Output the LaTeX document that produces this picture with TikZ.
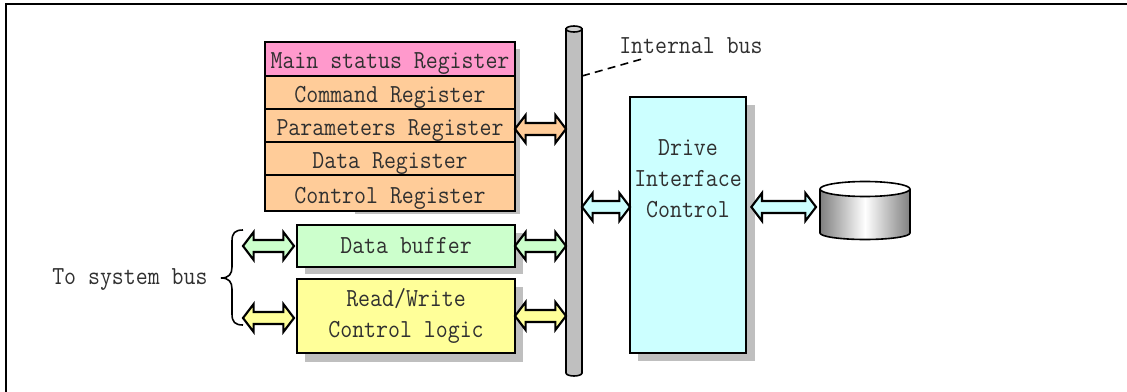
\documentclass[tikz,border=0pt]{standalone}
\usepackage{fontspec}
\newfontfamily\lblfont[FakeStretch=0.892]{Latin Modern Mono}
\usetikzlibrary{calc}
\definecolor{shad}{HTML}{BFBFBF}
\definecolor{pinkc}{HTML}{FF99CC}
\definecolor{orangec}{HTML}{FFCC99}
\definecolor{greenc}{HTML}{CCFFCC}
\definecolor{yellowc}{HTML}{FFFF99}
\definecolor{cyanc}{HTML}{CCFFFF}
\definecolor{txt}{HTML}{303030}
\newcommand{\lbl}{\fontsize{19.5}{23}\selectfont\lblfont}
\newcommand{\dn}[1]{\raisebox{-7.5pt}[0pt][0pt]{#1}}
\tikzset{
  x=0.75pt,y=-0.75pt,
  boxed/.style={draw=black,line width=1.5pt,inner sep=0pt,outer sep=0pt,text=txt,align=center,font=\lbl,anchor=north west},
  reg/.style={boxed,fill=orangec,minimum width=187.5pt},
  dbl/.style={draw=black,line width=1.6pt,line join=miter,miter limit=4,
    to path={let \p1=(\tikztostart),\p2=(\tikztotarget) in
      (\x1,\y1) -- (\x1+8pt,\y1+10.5pt) -- (\x1+8pt,\y1+4.5pt) -- (\x2-8pt,\y1+4.5pt) -- (\x2-8pt,\y1+10.5pt) -- (\x2,\y1)
      -- (\x2-8pt,\y1-10.5pt) -- (\x2-8pt,\y1-4.5pt) -- (\x1+8pt,\y1-4.5pt) -- (\x1+8pt,\y1-10.5pt) -- cycle}},
  plain/.style={font=\lbl,text=txt,inner sep=0pt},
}
\begin{document}
\begin{tikzpicture}
\useasboundingbox (0,0) rectangle (1127,392);
\draw[line width=2pt] (6,392) -- (6,4) -- (1127,4);
% shadows
\fill[shad] (355,49) rectangle (520,214);
\fill[shad] (305,233) rectangle (523,274);
\fill[shad] (305,287) rectangle (523,362);
\fill[shad] (638,105) rectangle (755,361);
% register stack
\node[reg,minimum height=25.5pt,fill=pinkc] (main) at (265,42) {\dn{Main status Register}};
\node[reg,minimum height=24.75pt] (cmd) at (265,76) {\dn{Command Register}};
\node[reg,minimum height=24.75pt] (par) at (265,109) {\dn{Parameters Register}};
\node[reg,minimum height=24.75pt] (dat) at (265,142) {\dn{Data Register}};
\node[reg,minimum height=27pt] (ctl) at (265,175) {\dn{Control Register}};
\node[boxed,fill=greenc,minimum width=163.5pt,minimum height=31.5pt] (buf) at (297,225) {Data buffer};
\node[boxed,fill=yellowc,minimum width=163.5pt,minimum height=55.5pt] (rw) at (297,279) {Read/Write\\Control logic};
\node[boxed,fill=cyanc,minimum width=87pt,minimum height=192pt] (dic) at (630,97) {Drive\\Interface\\Control\\[40pt]\strut};
% bus
\node[inner sep=0pt,outer sep=0pt,minimum width=12pt,minimum height=258pt,anchor=north west] (bus) at (566,29) {};
\draw[line width=1.2pt,fill=shad] (bus.north west) -- (bus.south west) arc[start angle=180,end angle=360,x radius=8,y radius=-3] -- (bus.north east) -- cycle;
\draw[line width=1.2pt,fill=shad!70!white] (bus.north) ellipse[x radius=8,y radius=3];
% disk
\node[inner sep=0pt,outer sep=0pt,minimum width=67.5pt,minimum height=33pt,anchor=north west] (disk) at (820,189) {};
\path[left color=gray,right color=gray,middle color=white] (disk.north west) -- (disk.south west) arc[start angle=180,end angle=360,x radius=45,y radius=-6.5] -- (disk.north east) -- cycle;
\draw[line width=1.2pt] (disk.north west) -- (disk.south west) arc[start angle=180,end angle=360,x radius=45,y radius=-6.5] -- (disk.north east);
\draw[line width=1.2pt,fill=white] (disk.north) ellipse[x radius=45,y radius=7.5];
% labels
\node[plain,anchor=west] (ibus) at (619,46) {Internal bus};
\node[plain,anchor=west] (sys) at (52,280) {To system bus};
\coordinate (dashend) at (642,59);
\draw[line width=1.2pt,dash pattern=on 6pt off 4pt] (bus.east |- 0,76) -- (dashend);
% brace
\draw[line width=1.2pt] (243,230) .. controls (235,230) and (232,233) .. (232,241) -- (232,267)
   .. controls (232,274) and (229,278) .. (221,278) .. controls (229,278) and (232,282) .. (232,289) -- (232,314)
   .. controls (232,322) and (235,325) .. (243,325);
% double arrows
\draw[dbl,fill=orangec] ([yshift=-2.6pt]par.east) to ([yshift=-2.6pt]par.east -| bus.west);
\draw[dbl,fill=greenc] (buf.east) to (buf.east -| bus.west);
\draw[dbl,fill=yellowc] (rw.east) to (rw.east -| bus.west);
\draw[dbl,fill=greenc] ([xshift=-40.5pt]buf.west) to ([xshift=-2.25pt]buf.west);
\draw[dbl,fill=yellowc] ([xshift=-40.5pt,yshift=-1.5pt]rw.west) to ([xshift=-2.25pt,yshift=-1.5pt]rw.west);
\draw[dbl,fill=cyanc] ([yshift=13.5pt]dic.west -| bus.east) to ([yshift=13.5pt]dic.west);
\draw[dbl,fill=cyanc] ([yshift=13.5pt,xshift=4pt]dic.east) to ([yshift=13.5pt,xshift=-3pt]dic.east -| disk.west);
\end{tikzpicture}
\end{document}
